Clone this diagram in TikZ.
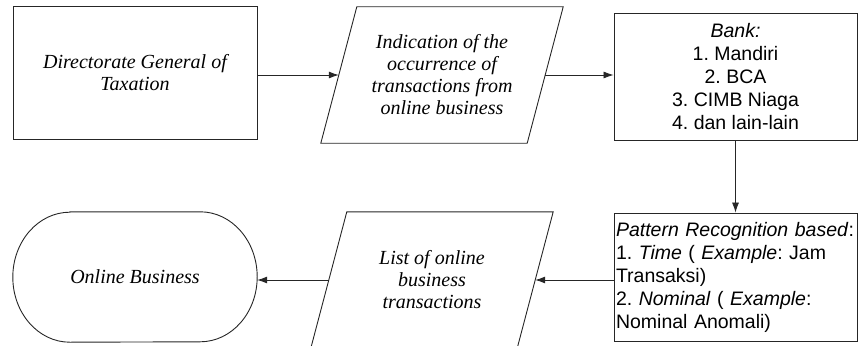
\documentclass[tikz,border=0pt]{standalone}
\usepackage{fontspec}
\setmainfont{Liberation Serif}
\setsansfont{Liberation Sans}
\usetikzlibrary{arrows.meta,calc}
\begin{document}
\begin{tikzpicture}[x=1pt,y=-1pt,
  outline/.style={draw=black!85, line width=0.9pt},
  txtserif/.style={font=\frenchspacing\fontsize{20}{22}\selectfont\itshape, align=center},
  txtsans/.style={font=\frenchspacing\sffamily\fontsize{19.5}{23}\selectfont},
  arr/.style={draw=black!85, line width=0.8pt, -{Latex[length=10pt,width=7pt]}},
  % text area of a data (parallelogram) box: its width is the width at mid height
  iotext/.style={rectangle, minimum width=206pt, minimum height=136pt, inner sep=0pt},
  procbox/.style={outline, rectangle, minimum width=243pt},
  ]
\useasboundingbox (0,0) rectangle (858,345);
\clip (0,0) rectangle (858,345);

% top row
\node[procbox, minimum width=244pt, minimum height=133pt, txtserif] (dgt) at (135,72.5)
  {Directorate General of\\Taxation};
\node[iotext, txtserif] (ind) at (442,75)
  {Indication of the\\occurrence of\\transactions from\\online business};
\draw[outline] ($(ind.north west)+(18,0)$) -- ($(ind.north east)+(18,0)$)
  -- ($(ind.south east)+(-18,0)$) -- ($(ind.south west)+(-18,0)$) -- cycle;
\node[procbox, minimum height=127pt, txtsans, align=center] (bank) at (735.5,76.5)
  {\textit{Bank:}\\1. Mandiri\\2. BCA\\3. CIMB Niaga\\4. dan lain-lain};

% bottom row
\node[procbox, minimum height=128pt, txtsans, align=left, text width=239pt, inner sep=2pt] (pat) at (735.5,277)
  {\textit{Pattern Recognition based}:\\
   1. \textit{Time} ( \textit{Example}: Jam\\
   Transaksi)\\
   2. \textit{Nominal} ( \textit{Example}:\\
   Nominal Anomali)};
\node[iotext, txtserif] (lst) at (432,280)
  {List of online\\business\\transactions};
\draw[outline] ($(lst.north west)+(18,0)$) -- ($(lst.north east)+(18,0)$)
  -- ($(lst.south east)+(-18,0)$) -- ($(lst.south west)+(-18,0)$) -- cycle;
\node[minimum width=244pt, minimum height=130pt, txtserif] (onb) at (135,277) {Online Business};
\draw[outline] ([xshift=57pt]onb.north west) -- ([xshift=-57pt]onb.north east)
  arc[start angle=90, end angle=-90, x radius=57pt, y radius=65pt]
  -- ([xshift=57pt]onb.south west)
  arc[start angle=270, end angle=90, x radius=57pt, y radius=65pt] -- cycle;

% connectors
\draw[arr] (dgt.east |- ind.west) -- (ind.west);
\draw[arr] (ind.east) -- (ind.east -| bank.west);
\draw[arr] (bank) -- (pat);
\draw[arr] (pat.west |- lst.east) -- (lst.east);
\draw[arr] (lst.west) -- (lst.west -| onb.east);
\end{tikzpicture}
\end{document}
